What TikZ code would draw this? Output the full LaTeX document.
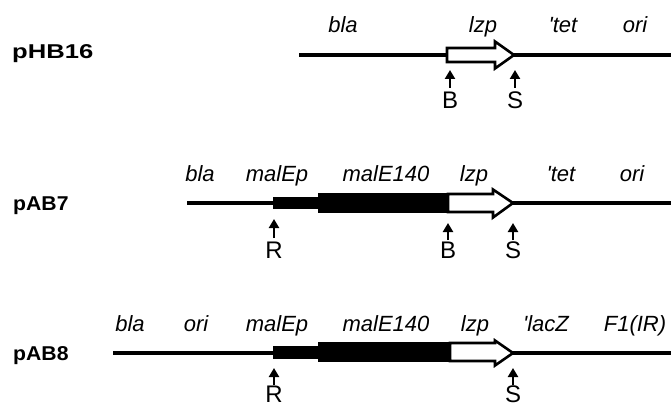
\documentclass[tikz,border=0pt]{standalone}
\usepackage{fontspec}
\setmainfont{Liberation Sans}
\usetikzlibrary{arrows.meta}
\begin{document}
\begin{tikzpicture}[x=1pt,y=-1pt,
  gene/.style={font=\fontsize{22}{22}\selectfont\itshape, anchor=base, inner sep=0pt},
  site/.style={font=\fontsize{24}{24}\selectfont, anchor=north, inner sep=0pt},
  plab/.style={font=\fontsize{20}{20}\selectfont\bfseries, anchor=base west, inner sep=0pt},
  dna/.style={line width=3.8pt},
  cut/.style={line width=2.8pt, -{Triangle[width=10pt,length=9pt]}},
  lzbox/.style={draw=black, fill=white, line width=2.6pt, line join=miter},
  malbox/.style={fill=black},
]
\useasboundingbox (0,0) rectangle (671,409);

% ---------------- pHB16 ----------------
\node[plab] (L1) at (12,59) {\scalebox{1.28}[1]{pHB16}};
\coordinate (r1a) at (299,55);
\coordinate (r1b) at (671,55);
\draw[dna] (r1a) -- (r1b);
\draw[lzbox] (447,48) -- (495,48) -- (495,41.5) -- (514,55) -- (495,68.5) -- (495,62) -- (447,62) -- cycle;
\node[gene] (g1a) at (343,33) {bla};
\node[gene] (g1b) at (483,33) {lzp};
\node[gene] (g1c) at (563,33) {\textquotesingle tet};
\node[gene] (g1d) at (635,33) {ori};
\coordinate (t1B) at (450,70);
\coordinate (t1S) at (515,70);
\node[site] (s1B) at (450,92) {B};
\node[site] (s1S) at (515,92) {S};
\draw[cut] ([yshift=4pt]s1B.north) -- (t1B);
\draw[cut] ([yshift=4pt]s1S.north) -- (t1S);

% ---------------- pAB7 ----------------
\node[plab] (L2) at (13,210) {\scalebox{1.06}[1]{pAB7}};
\coordinate (r2a) at (187,203);
\coordinate (r2b) at (671,203);
\draw[dna] (r2a) -- (r2b);
\fill[malbox] (273,197) rectangle (319,209);
\fill[malbox] (318,193) rectangle (449,213);
\draw[lzbox] (448,194) -- (493,194) -- (493,189.5) -- (513,203) -- (493,217.5) -- (493,212) -- (448,212) -- cycle;
\node[gene] (g2a) at (200,181) {bla};
\node[gene] (g2b) at (277,181) {malEp};
\node[gene] (g2c) at (386,181) {malE140};
\node[gene] (g2d) at (474,181) {lzp};
\node[gene] (g2e) at (561,181) {\textquotesingle tet};
\node[gene] (g2f) at (632,181) {ori};
\coordinate (t2R) at (274,219);
\coordinate (t2B) at (448,223);
\coordinate (t2S) at (513,223);
\node[site] (s2R) at (274,242) {R};
\node[site] (s2B) at (448,242) {B};
\node[site] (s2S) at (513,242) {S};
\draw[cut] ([yshift=4pt]s2R.north) -- (t2R);
\draw[cut] ([yshift=2pt]s2B.north) -- (t2B);
\draw[cut] ([yshift=2pt]s2S.north) -- (t2S);

% ---------------- pAB8 ----------------
\node[plab] (L3) at (13,360) {\scalebox{1.06}[1]{pAB8}};
\coordinate (r3a) at (113,353);
\coordinate (r3b) at (671,353);
\draw[dna] (r3a) -- (r3b);
\fill[malbox] (273,346) rectangle (319,359);
\fill[malbox] (318,342) rectangle (451,362);
\draw[lzbox] (450,343) -- (495,343) -- (495,340.5) -- (513,353) -- (495,365.5) -- (495,361) -- (450,361) -- cycle;
\node[gene] (g3a) at (130,331) {bla};
\node[gene] (g3b) at (196,331) {ori};
\node[gene] (g3c) at (277,331) {malEp};
\node[gene] (g3d) at (386,331) {malE140};
\node[gene] (g3e) at (475,331) {lzp};
\node[gene] (g3f) at (546,331) {\textquotesingle lacZ};
\node[gene] (g3g) at (635,331) {F1(IR)};
\coordinate (t3R) at (274,368);
\coordinate (t3S) at (513,368);
\node[site] (s3R) at (274,386) {R};
\node[site] (s3S) at (513,386) {S};
\draw[cut] ([yshift=1pt]s3R.north) -- (t3R);
\draw[cut] ([yshift=1pt]s3S.north) -- (t3S);
\end{tikzpicture}
\end{document}
